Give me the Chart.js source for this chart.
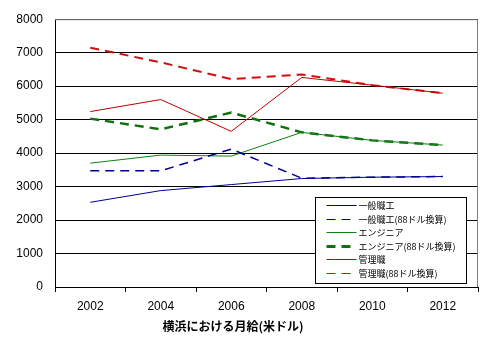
<!DOCTYPE html>
<html>
<head>
<meta charset="utf-8">
<script src="https://cdn.jsdelivr.net/npm/chart.js@4/dist/chart.umd.min.js"></script>
<style>
  html, body { margin: 0; padding: 0; background: #fff; }
  #wrap { width: 485px; height: 348px; }
</style>
</head>
<body>
<div id="wrap"><canvas id="grafico" width="485" height="348"></canvas></div>
<script>
// anni e valori
var anni = ['2002', '2004', '2006', '2008', '2010', '2012'];
var operaio = [2530, 2880, 3060, 3240, 3280, 3300];
var operaio88 = [3470, 3470, 4120, 3250, 3280, 3300];
var ingegnere = [3700, 3940, 3910, 4620, 4380, 4240];
var ingegnere88 = [5030, 4710, 5210, 4620, 4380, 4240];
var dirigente = [5240, 5600, 4650, 6260, 6030, 5790];
var dirigente88 = [7150, 6710, 6210, 6350, 6030, 5790];
var etichette = ['一般職工', '一般職工(88ドル換算)', 'エンジニア', 'エンジニア(88ドル換算)', '管理職', '管理職(88ドル換算)'];
var titoloX = '横浜における月給(米ドル)';

var colori = ['#000090', '#000090', '#108010', '#107010', '#c00000', '#d01010'];
var spessori = [1, 1.5, 1, 2.5, 1, 2];
var tratti = [[], [9, 6], [], [9, 6], [], [9, 6]];

function serie(i, data) {
    return {
        label: etichette[i],
        data: data,
        borderColor: colori[i],
        backgroundColor: colori[i],
        borderWidth: spessori[i],
        borderDash: tratti[i],
        pointRadius: 0,
        tension: 0,
        fill: false
    };
}

// legenda e titolo disegnati a mano
var legendaBox = {
    id: 'legendaBox',
    afterDraw: function(chart) {
        var ctx = chart.ctx;
        var area = chart.chartArea;
        ctx.save();
        // bordo grigio sopra e a destra
        ctx.strokeStyle = '#808080';
        ctx.lineWidth = 1;
        ctx.beginPath();
        ctx.moveTo(area.left, area.top + 0.5);
        ctx.lineTo(area.right - 0.5, area.top + 0.5);
        ctx.lineTo(area.right - 0.5, area.bottom);
        ctx.stroke();

        // titolo asse x
        ctx.fillStyle = '#000';
        ctx.font = 'bold 12px "Noto Sans CJK JP"';
        ctx.textAlign = 'center';
        ctx.textBaseline = 'middle';
        ctx.fillText(titoloX, 233, 326);

        var x = 315.5, y = 197.5, w = 151, h = 86;
        ctx.fillStyle = '#fff';
        ctx.fillRect(x, y, w, h);
        ctx.strokeStyle = '#000';
        ctx.lineWidth = 1;
        ctx.strokeRect(x, y, w, h);
        ctx.font = '9px "Noto Sans CJK JP"';
        ctx.textAlign = 'left';
        for (var i = 0; i < etichette.length; i++) {
            var yy = 205 + i * 13.6;
            var ly = Math.round(yy);
            var spess = spessori[i] > 2 ? 3 : 1;
            ctx.fillStyle = colori[i];
            if (tratti[i].length === 0) {
                ctx.fillRect(x + 11, ly, 30, spess);
            } else {
                for (var s = 0; s < 30; s += 15) {
                    ctx.fillRect(x + 11 + s, ly - (spess > 1 ? 1 : 0), 9, spess);
                }
            }
            ctx.fillStyle = '#000';
            ctx.fillText(etichette[i], x + 43, yy + 0.5);
        }
        ctx.restore();
    }
};

var ctx = document.getElementById('grafico');
var chart = new Chart(ctx, {
    type: 'line',
    data: {
        labels: anni,
        datasets: [
            serie(0, operaio),
            serie(1, operaio88),
            serie(2, ingegnere),
            serie(3, ingegnere88),
            serie(4, dirigente),
            serie(5, dirigente88)
        ]
    },
    options: {
        responsive: false,
        animation: false,
        layout: { padding: { left: 0, right: 7, top: 15, bottom: 0 } },
        plugins: {
            legend: { display: false },
            tooltip: { enabled: false }
        },
        scales: {
            x: {
                offset: true,
                grid: {
                    offset: true,
                    drawOnChartArea: false,
                    drawTicks: true,
                    tickLength: 5,
                    color: '#000'
                },
                border: { color: '#000', width: 1 },
                ticks: {
                    color: '#000',
                    font: { family: 'Liberation Sans', size: 12 },
                    padding: 7
                },
                afterFit: function(scale) { scale.height = 61; }
            },
            y: {
                min: 0,
                max: 8000,
                grid: {
                    color: '#000',
                    drawTicks: false,
                    lineWidth: 1
                },
                border: { color: '#000', width: 1 },
                ticks: {
                    stepSize: 1000,
                    color: '#000',
                    font: { family: 'Liberation Sans', size: 12 },
                    padding: 12,
                    callback: function(v) { return String(v); }
                },
                afterFit: function(scale) { scale.width = 55; }
            }
        }
    },
    plugins: [legendaBox]
});
</script>
</body>
</html>
